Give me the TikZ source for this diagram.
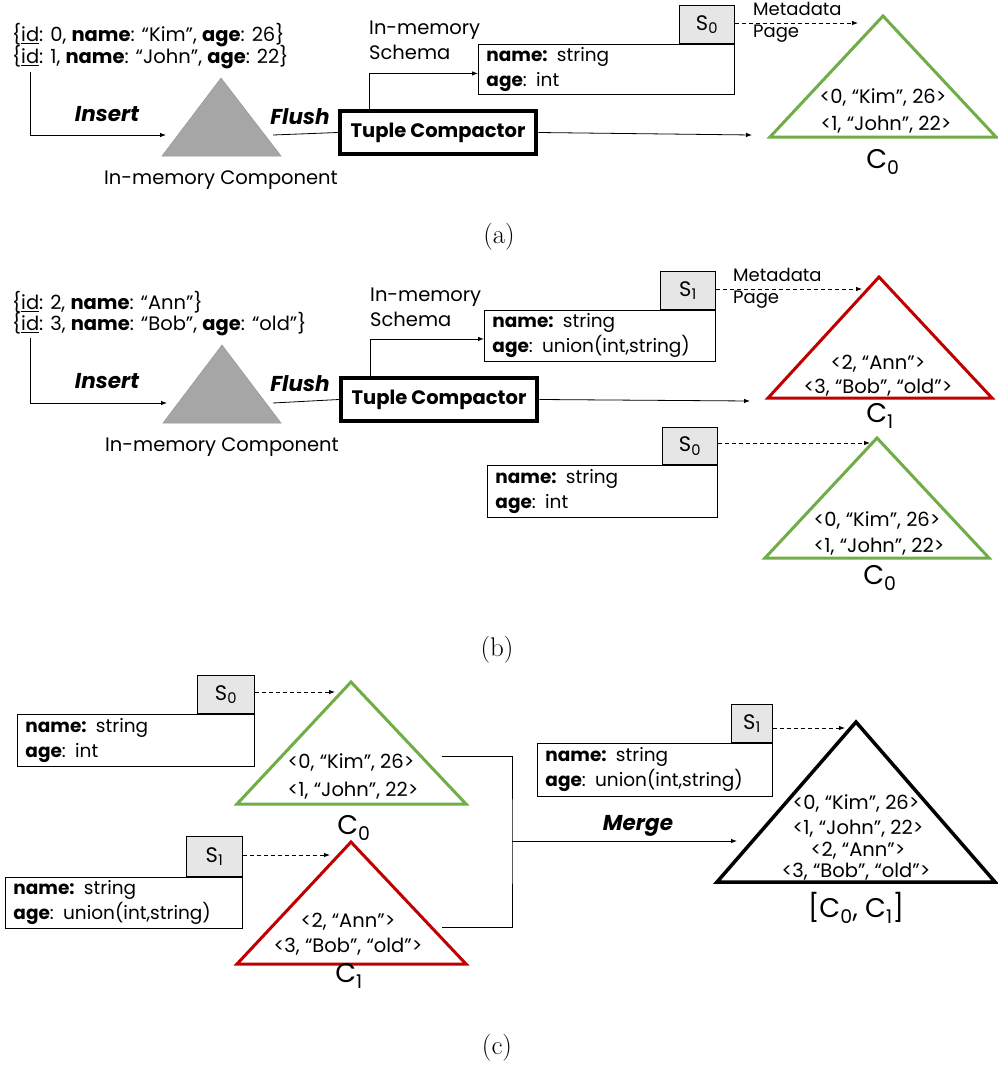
\documentclass[tikz,border=0pt]{standalone}
\usepackage{fontspec}
\setmainfont{Poppins}
\newfontfamily\capfont{Latin Modern Roman}
\usetikzlibrary{arrows.meta}
\definecolor{gtri}{HTML}{A6A6A6}
\definecolor{sgray}{HTML}{E7E6E6}
\definecolor{cgreen}{HTML}{70AD47}
\definecolor{cred}{HTML}{C00000}
\newcommand{\sbx}[1]{\textsubscript{#1}}
\tikzset{
  txt/.style={inner sep=0pt, font=\fontsize{19.5}{22}\selectfont},
  rowtxt/.style={inner sep=0pt, font=\fontsize{19.5}{21}\selectfont},
  big/.style={inner sep=0pt, font=\fontsize{27}{30}\selectfont},
  act/.style={inner sep=0pt, font=\fontsize{21.5}{24}\selectfont\bfseries\itshape},
  captxt/.style={inner sep=0pt, font=\capfont\fontsize{27}{30}\selectfont},
  metatxt/.style={inner sep=0pt, anchor=west, align=left, font=\fontsize{18}{22}\selectfont},
  schemabox/.style={draw, line width=0.9pt, anchor=north west, inner xsep=8pt, inner ysep=0pt,
     align=left, font=\fontsize{18.5}{25}\selectfont},
  sgbox/.style={draw, line width=0.9pt, fill=sgray, anchor=south east, inner sep=0pt,
     font=\fontsize{21}{24}\selectfont},
  tcbox/.style={draw, line width=4.5pt, inner sep=0pt, minimum width=196, minimum height=43,
     font=\fontsize{19.5}{22}\selectfont\bfseries},
  arr/.style={-{Latex[length=6pt,width=4.5pt]}, line width=0.8pt},
  darr/.style={arr, dash pattern=on 4pt off 3pt},
  graytri/.style={fill=gtri, draw=gtri!90!black, line width=0.5pt},
  tri/.style={line width=3pt, line join=miter},
}
\begin{document}
\begin{tikzpicture}[x=1pt, y=-1pt]
\useasboundingbox (0,0) rectangle (997,1068);

% ---------------- (a) ----------------
\node[txt, anchor=west] (a1) at (12,35) {\{\underline{id}: 0, \textbf{name}: “Kim”, \textbf{age}: 26\}};
\node[txt, anchor=west] (a2) at (12,57) {\{\underline{id}: 1, \textbf{name}: “John”, \textbf{age}: 22\}};
\coordinate (aIn) at (30,72);
\coordinate (aGL) at (166,135);
\coordinate (aGR) at (273,135);
\draw[graytri] (221,78) -- (281,156) -- (162,156) -- cycle;
\node[act] (aIns) at (107,114) {Insert};
\node[txt] (aMem) at (221,180) {In-memory Component};
\node[act] (aFl) at (300,117) {Flush};
\node[tcbox] (aTC) at (438,132.5) {Tuple Compactor};
\draw[arr] (aIn) |- (aGL);
\draw[line width=0.8pt] (aGR) -- (aTC.west);
\node[schemabox, minimum width=256, minimum height=50, text width=240] (aSch) at (478,44)
  {\textbf{name:} string\\\textbf{age}: int};
\node[sgbox, minimum width=55, minimum height=38] (aS) at (aSch.north east) {S\sbx{0}};
\node[txt, anchor=south west, align=left, font=\fontsize{19.5}{25}\selectfont] (aIMS) at (369,60) {In-memory\\Schema};
\draw[arr] ([xshift=32pt]aTC.north west) |- ([yshift=-4pt]aSch.west);
% on-disk component C0
\coordinate (aCt) at (883,16);
\coordinate (aCl) at (770,137);
\coordinate (aCr) at (996,137);
\draw[tri, cgreen] (aCt) -- (aCr) -- (aCl) -- cycle;
\node[rowtxt] (aR0) at (883,97) {<0, “Kim”, 26>};
\node[rowtxt] (aR1) at (886,125) {<1, “John”, 22>};
\node[big] (aC) at (883,162) {C\sbx{0}};
\coordinate (aCin) at (752,135);
\draw[arr] (aTC.east) -- (aCin);
\coordinate (aMeta) at (858,23);
\draw[darr] (aS.east |- 0,23) -- (aMeta);
\node[metatxt] (aMP) at (753,22.5) {Metadata\\Page};
\node[captxt] (capA) at (499,237) {(a)};

% ---------------- (b) ----------------
\node[txt, anchor=west] (b1) at (12,302) {\{\underline{id}: 2, \textbf{name}: “Ann”\}};
\node[txt, anchor=west] (b2) at (12,324) {\{\underline{id}: 3, \textbf{name}: “Bob”, \textbf{age}: “old”\}};
\coordinate (bIn) at (30,338);
\coordinate (bGL) at (167,403);
\coordinate (bGR) at (273,403);
\draw[graytri] (222,345) -- (281,423) -- (163,423) -- cycle;
\node[act] (bIns) at (107,381) {Insert};
\node[txt] (bMem) at (222,447) {In-memory Component};
\node[act] (bFl) at (300,384) {Flush};
\node[tcbox] (bTC) at (439,399.5) {Tuple Compactor};
\draw[arr] (bIn) |- (bGL);
\draw[line width=0.8pt] (bGR) -- (bTC.west);
\node[schemabox, minimum width=231, minimum height=51, text width=215] (bSch) at (484,310)
  {\textbf{name:} string\\\textbf{age}: union(int,string)};
\node[sgbox, minimum width=55, minimum height=38] (bS) at (bSch.north east) {S\sbx{1}};
\node[txt, anchor=south west, align=left, font=\fontsize{19.5}{25}\selectfont] (bIMS) at (370,327) {In-memory\\Schema};
\draw[arr] ([xshift=32pt]bTC.north west) |- ([yshift=-3pt]bSch.west);
% new component C1
\coordinate (bC1t) at (879,277);
\coordinate (bC1l) at (768,398);
\coordinate (bC1r) at (992,398);
\draw[tri, cred] (bC1t) -- (bC1r) -- (bC1l) -- cycle;
\node[rowtxt] (bR2) at (878,364) {<2, “Ann”>};
\node[rowtxt] (bR3) at (878,388) {<3, “Bob”, “old”>};
\node[big] (bC1) at (880,416) {C\sbx{1}};
\coordinate (bC1in) at (750,401);
\draw[arr] (bTC.east) -- (bC1in);
\coordinate (bMeta) at (862,289);
\draw[darr] (bS.east |- 0,289) -- (bMeta);
\node[metatxt] (bMP) at (733,288.5) {Metadata\\Page};
% older component C0
\node[schemabox, minimum width=230, minimum height=52, text width=214] (bSch0) at (487,465)
  {\textbf{name:} string\\\textbf{age}: int};
\node[sgbox, minimum width=55, minimum height=37] (bS0) at (bSch0.north east) {S\sbx{0}};
\coordinate (bC0t) at (877,438);
\coordinate (bC0l) at (765,558);
\coordinate (bC0r) at (989,558);
\draw[tri, cgreen] (bC0t) -- (bC0r) -- (bC0l) -- cycle;
\node[rowtxt] (bR0) at (877,520) {<0, “Kim”, 26>};
\node[rowtxt] (bR1) at (879,547) {<1, “John”, 22>};
\node[big] (bC0) at (880,578) {C\sbx{0}};
\coordinate (bMeta0) at (870,443);
\draw[darr] (bS0.east |- 0,443) -- (bMeta0);
\node[captxt] (capB) at (497,650) {(b)};

% ---------------- (c) ----------------
\node[schemabox, minimum width=237, minimum height=52, text width=221] (cSch0) at (17,714)
  {\textbf{name:} string\\\textbf{age}: int};
\node[sgbox, minimum width=57, minimum height=38] (cS0) at (cSch0.north east) {S\sbx{0}};
\coordinate (cC0t) at (351,682);
\coordinate (cC0l) at (237,804);
\coordinate (cC0r) at (466,804);
\draw[tri, cgreen] (cC0t) -- (cC0r) -- (cC0l) -- cycle;
\node[rowtxt] (cR0) at (351,762) {<0, “Kim”, 26>};
\node[rowtxt] (cR1) at (353,791) {<1, “John”, 22>};
\node[big] (cC0) at (354,828) {C\sbx{0}};
\coordinate (cMeta0) at (335,692);
\draw[darr] (cS0.east |- 0,692) -- (cMeta0);

\node[schemabox, minimum width=237, minimum height=51, text width=221] (cSch1) at (5,877)
  {\textbf{name:} string\\\textbf{age}: union(int,string)};
\node[sgbox, minimum width=56, minimum height=40] (cS1) at (cSch1.north east) {S\sbx{1}};
\coordinate (cC1t) at (351,842);
\coordinate (cC1l) at (237,964);
\coordinate (cC1r) at (466,964);
\draw[tri, cred] (cC1t) -- (cC1r) -- (cC1l) -- cycle;
\node[rowtxt] (cR2) at (348,922) {<2, “Ann”>};
\node[rowtxt] (cR3) at (348,947) {<3, “Bob”, “old”>};
\node[big] (cC1) at (349,976) {C\sbx{1}};
\coordinate (cMeta1) at (330,855);
\draw[darr] (cS1.east |- 0,855) -- (cMeta1);

% merge
\coordinate (cO0) at (442,756);
\coordinate (cO1) at (442,927);
\coordinate (cJ) at (512,841);
\coordinate (cMin) at (737,841);
\draw[line width=0.8pt] (cO0) -| (cJ) |- (cO1);
\draw[arr] (cJ) -- (cMin);
\node[act] (cMg) at (638,826) {Merge};

\node[schemabox, minimum width=235, minimum height=53, text width=219] (cSchM) at (537,743)
  {\textbf{name:} string\\\textbf{age}: union(int,string)};
\node[sgbox, minimum width=41, minimum height=38] (cSM) at (cSchM.north east) {S\sbx{1}};
\coordinate (cMt) at (856,722);
\coordinate (cMl) at (717,882);
\coordinate (cMr) at (995,882);
\draw[tri, line width=3.5pt, black] (cMt) -- (cMr) -- (cMl) -- cycle;
\node[rowtxt] (cM0) at (856,803) {<0, “Kim”, 26>};
\node[rowtxt] (cM1) at (858,829) {<1, “John”, 22>};
\node[rowtxt] (cM2) at (858,851) {<2, “Ann”>};
\node[rowtxt] (cM3) at (856,872) {<3, “Bob”, “old”>};
\node[big] (cMC) at (856,908) {[C\sbx{0}, C\sbx{1}]};
\coordinate (cMeta) at (845,728);
\draw[darr] (cSM.east |- 0,728) -- (cMeta);
\node[captxt] (capC) at (497,1048) {(c)};
\end{tikzpicture}
\end{document}
